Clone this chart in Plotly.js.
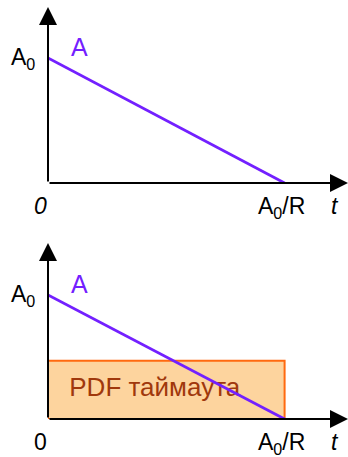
<!DOCTYPE html>
<html>
<head>
<meta charset="utf-8">
<script src="https://cdn.plot.ly/plotly-3.0.1.min.js"></script>
<style>
  body { margin: 0; background: #fff; }
  #chart { width: 348px; height: 457px; }
</style>
</head>
<body>
<div id="chart"></div>
<script>
// Данные: линейное убывание A(t) от A0 до 0 за время A0/R
const tValues = [0, 1];          // в единицах A0/R
const aValues = [1, 0];          // в единицах A0
const pdfLevel = 0.47;           // высота PDF таймаута (в единицах A0)
const pdfRange = [0, 1];
const xTickLabels = ['0', 'A<sub>0</sub>/R'];
const yTickLabel = 'A<sub>0</sub>';
const seriesName = 'A';
const pdfLabel = 'PDF таймаута';

const purple = '#7320FF';
const font = 'Liberation Sans, Arial, sans-serif';

const W = 348, H = 457, L = 48;
const xMax = 1.268;
const yMaxTop = 1.408;
const yMaxBottom = 1.419;
const domTop = [1 - 183 / H, 1 - 7 / H];
const domBottom = [1 - 419 / H, 1 - 243 / H];

const traces = [
    // прямоугольник PDF (нижний график)
    {
        x: [pdfRange[0], pdfRange[0], pdfRange[1], pdfRange[1], pdfRange[0]],
        y: [0, pdfLevel, pdfLevel, 0, 0],
        xaxis: 'x2', yaxis: 'y2',
        type: 'scatter', mode: 'lines',
        fill: 'toself', fillcolor: '#FDD49E',
        line: { color: '#FF6A10', width: 2 },
        hoverinfo: 'skip'
    },
    {
        x: [0.09], y: [pdfLevel / 2],
        xaxis: 'x2', yaxis: 'y2',
        type: 'scatter', mode: 'text',
        text: [pdfLabel], textposition: 'middle right',
        textfont: { family: font, size: 26, color: '#A0380C' },
        hoverinfo: 'skip'
    },
    {
        x: tValues, y: aValues,
        xaxis: 'x', yaxis: 'y',
        type: 'scatter', mode: 'lines', cliponaxis: false,
        line: { color: purple, width: 2.8 }
    },
    {
        x: tValues, y: aValues,
        xaxis: 'x2', yaxis: 'y2',
        type: 'scatter', mode: 'lines', cliponaxis: false,
        line: { color: purple, width: 2.8 }
    }
];

// стрелки осей
function axisArrows(xa, ya, yMax) {
    const a = { ax: 0, ay: 0, xref: xa, yref: ya, axref: xa, ayref: ya, text: '',
                showarrow: true, arrowhead: 2, arrowsize: 1.8, arrowwidth: 2, arrowcolor: '#000' };
    return [
        Object.assign({}, a, { x: xMax, y: 0 }),
        Object.assign({}, a, { x: 0, y: yMax })
    ];
}

const axisBase = {
    showgrid: false, zeroline: false, showticklabels: false,
    ticks: '', showline: false, fixedrange: true
};

function labels(xa, ya, zeroItalic) {
    const f = { family: font, size: 23, color: '#000' };
    return [
        { x: 0, y: aValues[0], xref: xa, yref: ya, text: yTickLabel, showarrow: false,
          xanchor: 'right', xshift: -11, yshift: -1, font: f },
        { x: 0, y: 0, xref: xa, yref: ya, text: zeroItalic ? '<i>' + xTickLabels[0] + '</i>' : xTickLabels[0],
          showarrow: false, xanchor: 'center', xshift: -8, yanchor: 'top', yshift: -8, font: f },
        { x: tValues[1], y: 0, xref: xa, yref: ya, text: xTickLabels[1], showarrow: false,
          xanchor: 'center', xshift: -3, yanchor: 'top', yshift: -8, font: f },
        { x: xMax, y: 0, xref: xa, yref: ya, text: '<i>t</i>', showarrow: false,
          xanchor: 'center', xshift: -13, yanchor: 'top', yshift: -8, font: f },
        { x: 0.09, y: aValues[0], xref: xa, yref: ya, text: seriesName, showarrow: false,
          xanchor: 'left', yanchor: 'bottom', yshift: -5, font: { family: font, size: 25, color: purple } }
    ];
}

const layout = {
    width: W, height: H,
    margin: { l: L, r: 0, t: 0, b: 0 },
    paper_bgcolor: '#fff', plot_bgcolor: 'rgba(0,0,0,0)',
    showlegend: false,
    xaxis: Object.assign({}, axisBase, { range: [0, xMax], domain: [0, 1], anchor: 'y' }),
    yaxis: Object.assign({}, axisBase, { range: [0, yMaxTop], domain: domTop, anchor: 'x' }),
    xaxis2: Object.assign({}, axisBase, { range: [0, xMax], domain: [0, 1], anchor: 'y2' }),
    yaxis2: Object.assign({}, axisBase, { range: [0, yMaxBottom], domain: domBottom, anchor: 'x2' }),
    annotations: [].concat(
        axisArrows('x', 'y', yMaxTop), axisArrows('x2', 'y2', yMaxBottom),
        labels('x', 'y', true), labels('x2', 'y2', false))
};

Plotly.newPlot('chart', traces, layout, { displayModeBar: false, staticPlot: true });
</script>
</body>
</html>
